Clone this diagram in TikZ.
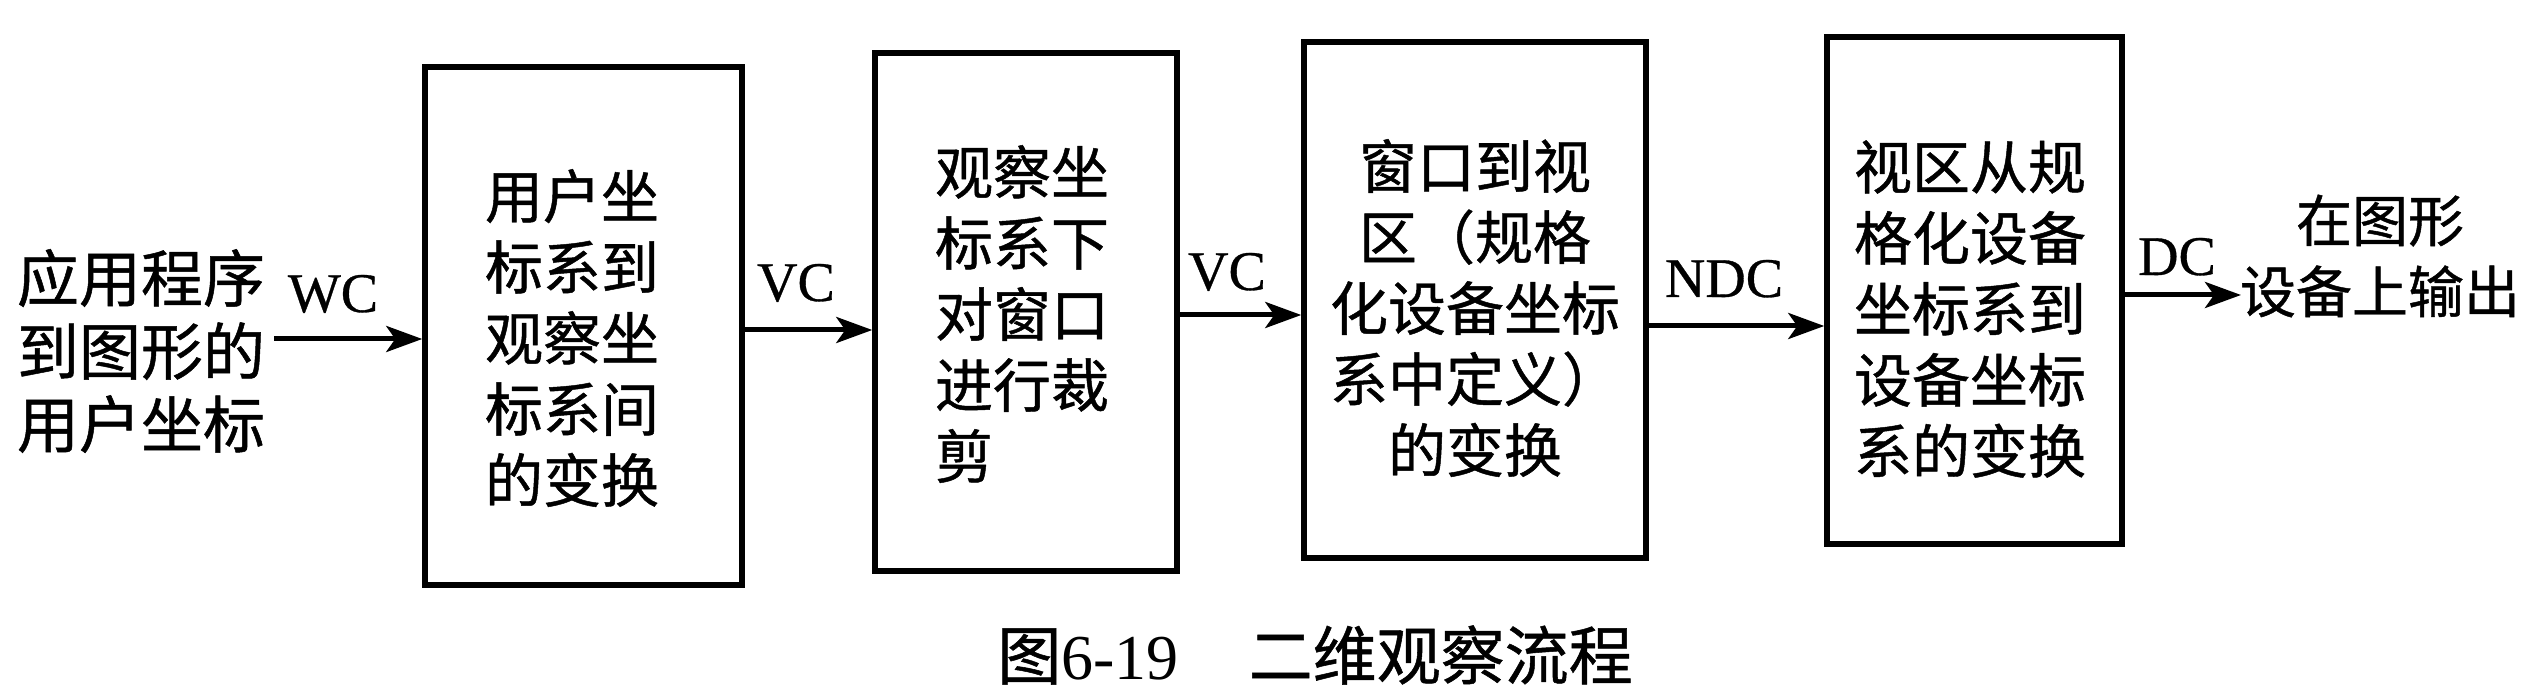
\documentclass[tikz,border=0pt]{standalone}
\usepackage{fontspec}
\setmainfont{Liberation Serif}
\newfontfamily\cjk[FakeBold=0.8]{Noto Sans CJK SC}
\newfontfamily\lat[FakeBold=0.6]{Liberation Serif}
\usetikzlibrary{arrows.meta}
\begin{document}
\begin{tikzpicture}[x=1pt,y=-1pt,
  blk/.style={draw, line width=5.5pt, inner sep=0pt},
  btxt/.style={font=\cjk\fontsize{58}{71}\selectfont, align=center, inner sep=0pt},
  otxt/.style={font=\cjk\fontsize{60}{72}\selectfont, align=center, inner sep=0pt},
  lbl/.style={font=\lat\fontsize{56}{60}\selectfont, anchor=base, inner sep=0pt},
  arr/.style={line width=5pt, -{Stealth[length=36pt,width=26pt,inset=9pt]}}]
\useasboundingbox (0,0) rectangle (2548,700);
% boxes
\node[blk, minimum width=317pt, minimum height=518pt] (b1) at (583.5,326) {};
\node[blk, minimum width=302pt, minimum height=518pt] (b2) at (1026,312) {};
\node[blk, minimum width=342pt, minimum height=516pt] (b3) at (1475,300) {};
\node[blk, minimum width=295pt, minimum height=507pt] (b4) at (1974.5,290.5) {};
% box texts
\node[btxt] (t1) at (572,338) {用户坐\\标系到\\观察坐\\标系间\\的变换};
\node[btxt, align=left] (t2) at (1022,314) {观察坐\\标系下\\对窗口\\进行裁\\剪};
\node[btxt] (t3) at (1475,308) {窗口到视\\区（规格\\化设备坐标\\系中定义）\\的变换};
\node[btxt] (t4) at (1970,309) {视区从规\\格化设备\\坐标系到\\设备坐标\\系的变换};
% input / output
\node[otxt, font=\cjk\fontsize{62}{73}\selectfont] (in) at (141,351) {应用程序\\到图形的\\用户坐标};
\node[otxt, font=\cjk\fontsize{56}{71}\selectfont] (out) at (2380,256) {在图形\\设备上输出};
% arrows
\coordinate (a0) at (274,339);
\draw[arr] (a0) -- (a0 -| b1.west);
\coordinate (a1) at (742,330);
\draw[arr] (a1 -| b1.east) -- (a1 -| b2.west);
\coordinate (a2) at (1177,315);
\draw[arr] (a2 -| b2.east) -- (a2 -| b3.west);
\coordinate (a3) at (1646,326);
\draw[arr] (a3 -| b3.east) -- (a3 -| b4.west);
\coordinate (a4) at (2241,295);
\draw[arr] (a4 -| b4.east) -- (a4);
% labels
\node[lbl] (lwc) at (333,312) {WC};
\node[lbl] (lvc1) at (796,301) {VC};
\node[lbl] (lvc2) at (1227,290) {VC};
\node[lbl] (lndc) at (1724,297) {NDC};
\node[lbl] (ldc) at (2177,275) {DC};
% caption
\node[font=\fontsize{64}{70}\selectfont, inner sep=0pt] (cap) at (1315,655) {{\cjk 图}6-19\hspace{70pt}{\cjk 二维观察流程}};
\end{tikzpicture}
\end{document}
